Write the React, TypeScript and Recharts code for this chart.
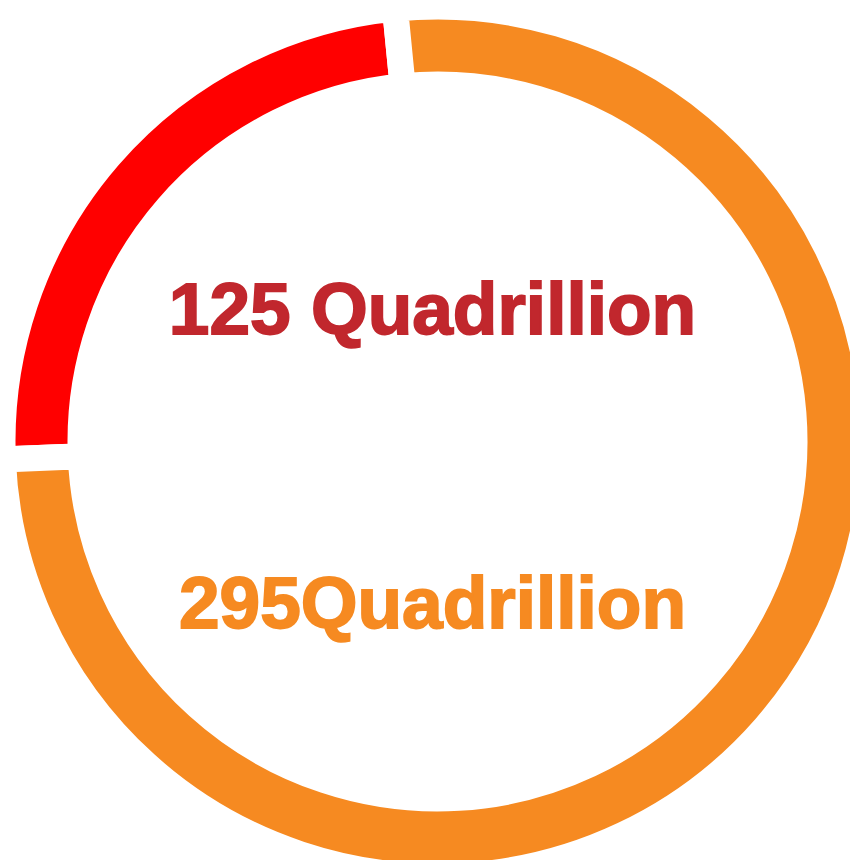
import React from "react";
import { PieChart, Pie, Cell, Label } from "recharts";

const segmentNames = ["Red", "Orange"];
const segmentValues = [24.1, 75.9];
const segmentColors = ["#FF0000", "#F68A21"];
const centerLabels = ["125 Quadrillion", "295Quadrillion"];
const labelColors = ["#C1272D", "#F68A21"];

const data = segmentNames.map((name, i) => ({ name, value: segmentValues[i] }));

const FONT = "'Liberation Sans', Arial, sans-serif";

const CenterText = (props: any) => {
  const vb = props.viewBox || {};
  const cx = vb.cx ?? 437.5;
  const cy = vb.cy ?? 441.5;
  return (
    <g>
      <text
        x={cx - 5}
        y={cy - 108}
        textAnchor="middle"
        fill={labelColors[0]}
        stroke={labelColors[0]}
        strokeWidth={1.8}
        fontFamily={FONT}
        fontWeight="bold"
        fontSize={73}
      >
        {centerLabels[0]}
      </text>
      <text
        x={cx - 5}
        y={cy + 186}
        textAnchor="middle"
        fill={labelColors[1]}
        stroke={labelColors[1]}
        strokeWidth={1.8}
        fontFamily={FONT}
        fontWeight="bold"
        fontSize={73}
      >
        {centerLabels[1]}
      </text>
    </g>
  );
};

export default function App() {
  return (
    <div style={{ position: "fixed", top: 0, left: 0, width: 850, height: 860, background: "#fff" }}>
      <PieChart width={850} height={860} margin={{ top: 0, right: 0, bottom: 0, left: 0 }}>
        <Pie
          data={data}
          dataKey="value"
          nameKey="name"
          cx={437.5}
          cy={441.5}
          innerRadius={357}
          outerRadius={435}
          startAngle={95.6}
          endAngle={455.6}
          stroke="#FFFFFF"
          strokeWidth={26}
          isAnimationActive={false}
        >
          {data.map((d, i) => (
            <Cell key={d.name} fill={segmentColors[i]} stroke="#FFFFFF" strokeWidth={26} />
          ))}
          <Label content={<CenterText />} position="center" />
        </Pie>
      </PieChart>
    </div>
  );
}
